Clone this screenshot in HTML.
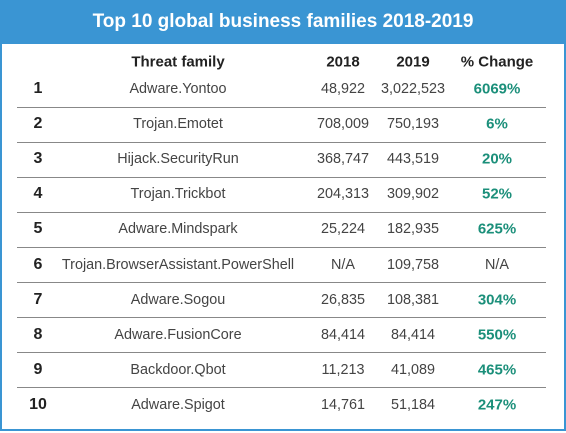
<!DOCTYPE html>
<html><head><meta charset="utf-8"><style>
body{margin:0;width:566px;height:433px;overflow:hidden;background:#fff;font-family:"Liberation Sans",sans-serif}
#frame{position:absolute;left:0;top:0;width:562px;height:429px;border:2px solid #3a95d3;border-top:none}
#title{position:absolute;left:0;top:0;width:566px;height:44px;background:#3a95d3;color:#fff;font-weight:bold;font-size:19px;text-align:center;line-height:44px}
.c{position:absolute;transform:translate(-50%,-50%);white-space:nowrap;font-size:14.4px;color:#444}
.h{font-weight:bold;color:#222;font-size:15px}
.n{font-weight:bold;color:#222;font-size:16px}
.g{font-weight:bold;color:#1b8f7a;font-size:15px}
.line{position:absolute;left:17px;width:529px;height:1px;background:#888}
</style></head><body>
<div id="frame"></div>
<div id="title">Top 10 global business families 2018-2019</div>
<div id="t"></div>
<script>
const families=["Adware.Yontoo","Trojan.Emotet","Hijack.SecurityRun","Trojan.Trickbot","Adware.Mindspark","Trojan.BrowserAssistant.PowerShell","Adware.Sogou","Adware.FusionCore","Backdoor.Qbot","Adware.Spigot"];
const v2018=["48,922","708,009","368,747","204,313","25,224","N/A","26,835","84,414","11,213","14,761"];
const v2019=["3,022,523","750,193","443,519","309,902","182,935","109,758","108,381","84,414","41,089","51,184"];
const changes=["6069%","6%","20%","52%","625%","N/A","304%","550%","465%","247%"];
const t=document.getElementById('t');
function cell(x,y,txt,cls,name){const d=document.createElement('div');d.className='c '+cls;d.style.left=x+'px';d.style.top=y+'px';d.textContent=txt;


t.appendChild(d);}
cell(178,62,"Threat family","h","header-threat-family");
cell(343,62,"2018","h","header-2018");
cell(413,62,"2019","h","header-2019");
cell(497,62,"% Change","h","header-change");
const pitch=35.1;
families.forEach((f,i)=>{const y=89+i*pitch;
cell(38,y,String(i+1),"n","rank-"+(i+1));
cell(178,y,f,"","family-"+(i+1));
cell(343,y,v2018[i],"","value-2018-"+(i+1));
cell(413,y,v2019[i],"","value-2019-"+(i+1));
cell(497,y,changes[i],changes[i]==="N/A"?"":"g","change-"+(i+1));
if(i<families.length-1){const l=document.createElement('div');l.className='line';l.style.top=Math.round(y+17.5)+'px';


t.appendChild(l);}
});
</script>
</body></html>
